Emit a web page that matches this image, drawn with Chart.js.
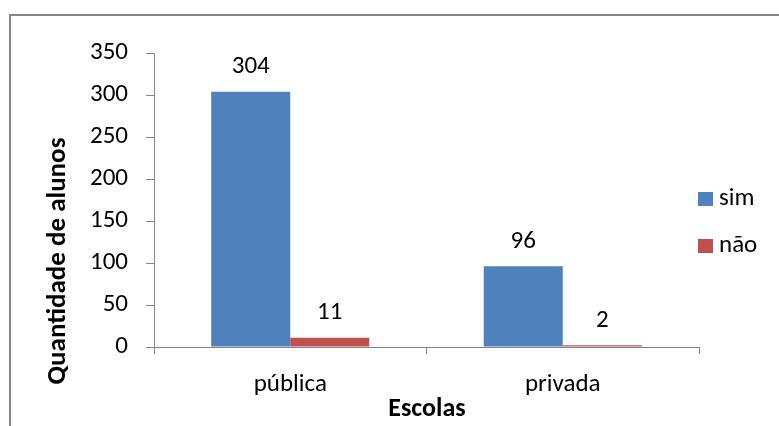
<!DOCTYPE html>
<html>
<head>
<meta charset="utf-8">
<script src="https://cdn.jsdelivr.net/npm/chart.js@4/dist/chart.umd.min.js"></script>
<style>
  body { margin: 0; background: #fff; }
  #wrap { width: 779px; height: 426px; }
</style>
</head>
<body>
<div id="wrap"><canvas id="chart" width="779" height="426"></canvas></div>
<script>
const categories = ['pública', 'privada'];
const simValues = [304, 96];
const naoValues = [11, 2];
const seriesNames = ['sim', 'não'];
const yTicks = [0, 50, 100, 150, 200, 250, 300, 350];

const fontFamily = 'Carlito, Lato, sans-serif';
const axisGray = '#868686';

// frame, value labels, axis titles and legend drawn on the canvas
const extras = {
    id: 'extras',
    beforeDraw(chart) {
        const ctx = chart.ctx;
        ctx.save();
        ctx.fillStyle = '#fff';
        ctx.fillRect(0, 0, chart.width, chart.height);
        ctx.strokeStyle = axisGray;
        ctx.lineWidth = 2;
        ctx.strokeRect(10, 15, chart.width + 20, chart.height + 20);
        ctx.restore();
    },
    afterDatasetsDraw(chart) {
        const ctx = chart.ctx;
        ctx.save();
        ctx.fillStyle = '#000';
        ctx.font = '25px ' + fontFamily;
        ctx.textAlign = 'center';
        ctx.textBaseline = 'middle';
        chart.data.datasets.forEach((ds, i) => {
            chart.getDatasetMeta(i).data.forEach((bar, j) => {
                ctx.fillText(String(ds.data[j]), bar.x, bar.y - 25);
            });
        });

        ctx.font = 'bold 26px ' + fontFamily;
        ctx.fillText('Escolas', 427, 409);
        ctx.save();
        ctx.translate(58, 261);
        ctx.rotate(-Math.PI / 2);
        ctx.font = 'bold 27px ' + fontFamily;
        ctx.fillText('Quantidade de alunos', 0, 0);
        ctx.restore();

        ctx.font = '25px ' + fontFamily;
        ctx.textAlign = 'left';
        const legendY = [199, 246];
        chart.data.datasets.forEach((ds, i) => {
            ctx.fillStyle = ds.backgroundColor;
            ctx.fillRect(698, legendY[i] - 7, 15, 14);
            ctx.fillStyle = '#000';
            ctx.fillText(ds.label, 719, legendY[i]);
        });
        ctx.restore();
    }
};

new Chart(document.getElementById('chart').getContext('2d'), {
    type: 'bar',
    data: {
        labels: categories,
        datasets: [{
            label: seriesNames[0],
            data: simValues,
            backgroundColor: '#4F81BD'
        }, {
            label: seriesNames[1],
            data: naoValues,
            backgroundColor: '#C0504D'
        }]
    },
    options: {
        responsive: false,
        animation: false,
        layout: {
            padding: { left: 72, right: 80, top: 53, bottom: 10 }
        },
        datasets: {
            bar: { categoryPercentage: 0.58, barPercentage: 1 }
        },
        plugins: {
            legend: { display: false },
            tooltip: { enabled: false }
        },
        scales: {
            x: {
                grid: {
                    offset: true,
                    drawOnChartArea: false,
                    tickLength: 7,
                    color: axisGray
                },
                border: { color: axisGray, width: 1 },
                ticks: {
                    color: '#000',
                    padding: 16,
                    font: { size: 25, family: fontFamily }
                }
            },
            y: {
                min: 0,
                max: 350,
                afterBuildTicks(axis) {
                    axis.ticks = yTicks.map(v => ({ value: v }));
                },
                grid: {
                    drawOnChartArea: false,
                    tickLength: 8,
                    color: axisGray
                },
                border: { color: axisGray, width: 1 },
                ticks: {
                    color: '#000',
                    padding: 18,
                    font: { size: 25, family: fontFamily }
                }
            }
        }
    },
    plugins: [extras]
});
</script>
</body>
</html>
